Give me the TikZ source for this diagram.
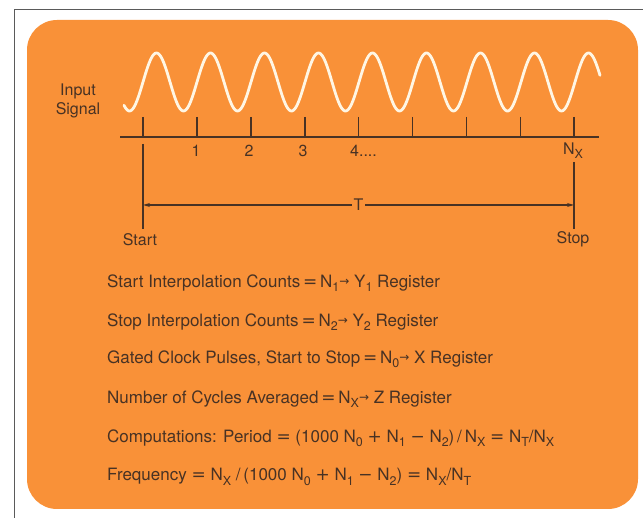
\documentclass[tikz,border=0pt]{standalone}
\usepackage{fontspec}
\setmainfont{TeX Gyre Heros}
\newfontfamily\symf{DejaVu Sans}
\usetikzlibrary{arrows.meta}
\definecolor{bg}{RGB}{249,145,56}
\definecolor{ink}{RGB}{72,50,36}
\definecolor{wavec}{RGB}{255,246,228}
\definecolor{framec}{RGB}{90,90,90}
\newcommand{\lowsub}[1]{\raisebox{-0.5ex}{\fontsize{12.5}{12.5}\selectfont #1}}
\newcommand{\rarr}{{\symf\fontsize{12}{12}\selectfont\raisebox{0.3ex}{→}}}
\newcommand{\eqs}{{\symf\,=\,}}
\newcommand{\weq}{{\symf\;=\;}}
\newcommand{\wpl}{{\symf\;+\;}}
\newcommand{\wmn}{{\symf\;−\;}}
\tikzset{
  txt/.style={anchor=west, text=ink, font=\fontsize{17}{19}\selectfont, inner sep=0pt},
  lbl/.style={text=ink, font=\fontsize{16}{18}\selectfont, inner sep=0pt},
  rule/.style={draw=ink, line width=1.6pt},
  thin/.style={draw=ink, line width=1.1pt},
}
\begin{document}
\begin{tikzpicture}[x=1pt,y=-1pt]
\useasboundingbox (0,0) rectangle (643,518);
\fill[white] (0,0) rectangle (643,518);
% outer frame
\draw[framec, line width=1pt] (643,10) -- (14,10) -- (14,518);
% orange panel
\fill[bg, rounded corners=30pt] (27,20) rectangle (638,509);
% input signal label
\node[lbl, align=center] (inp) at (78,101) {Input\\[1pt]Signal};
% wave
\draw[wavec, line width=2.8pt, line cap=round]
  plot[domain=124:600, samples=400, smooth] (\x, {82-29*sin((\x-143)*6.6667)});
% axis
\coordinate (ax1) at (120,137);
\coordinate (ax2) at (599,137);
\draw[rule] (ax1) -- (ax2);
\foreach \i in {0,...,8} {
  \coordinate (t\i) at ({143+53.9*\i},117);
  \draw[rule] (t\i) -- ({143+53.9*\i},137);
}
\node[lbl] (n1) at (196,151) {1};
\node[lbl] (n2) at (249,151) {2};
\node[lbl] (n3) at (303,151) {3};
\node[lbl, anchor=west] (n4) at (350,151) {4....};
\node[lbl] (nx) at (573,151) {N\lowsub{X}};
% start / stop lines
\coordinate (sa) at (143,144);
\coordinate (sb) at (143,229);
\coordinate (ea) at (574,162);
\coordinate (eb) at (574,229);
\draw[thin] (sa) -- (sb);
\draw[thin] (ea) -- (eb);
\coordinate (ta) at (143,205);
\coordinate (tb) at (574,205);
\draw[thin, {Stealth[length=7pt,width=4pt]}-{Stealth[length=7pt,width=4pt]}] (ta) -- (tb)
  node[midway, fill=bg, lbl, inner xsep=2pt] (T) {T};
\node[lbl] (start) at (140,240) {Start};
\node[lbl] (stop) at (573,239) {Stop};
% equations
\node[txt] (l1) at (107,283) {Start Interpolation Counts\eqs N\lowsub{1}\rarr\ Y\lowsub{1} Register};
\node[txt] (l2) at (107,322) {Stop Interpolation Counts\eqs N\lowsub{2}\rarr\ Y\lowsub{2} Register};
\node[txt] (l3) at (107,359) {Gated Clock Pulses, Start to Stop\eqs N\lowsub{0}\rarr\ X Register};
\node[txt] (l4) at (107,399) {Number of Cycles Averaged\eqs N\lowsub{X}\rarr\ Z Register};
\node[txt] (l5) at (107,438) {Computations: Period\weq (1000 N\lowsub{0}\wpl N\lowsub{1}\wmn N\lowsub{2})\,/\,N\lowsub{X}\weq N\lowsub{T}/N\lowsub{X}};
\node[txt] (l6) at (107,477) {Frequency\weq N\lowsub{X}\;/\,(1000 N\lowsub{0}\wpl N\lowsub{1}\wmn N\lowsub{2})\weq N\lowsub{X}/N\lowsub{T}};
\end{tikzpicture}
\end{document}
